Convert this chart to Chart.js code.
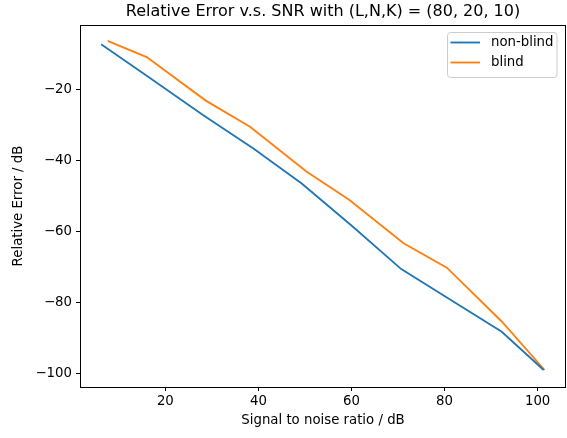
<!DOCTYPE html>
<html>
<head>
<meta charset="utf-8">
<script src="https://cdn.jsdelivr.net/npm/chart.js@4.4.1/dist/chart.umd.min.js"></script>
<style>
html,body{margin:0;padding:0;background:#fff;}
canvas{display:block;}
</style>
</head>
<body>
<canvas id="c" width="567" height="438"></canvas>
<script>
const chartTitle = "Relative Error v.s. SNR with (L,N,K) = (80, 20, 10)";
const xLabel = "Signal to noise ratio / dB";
const yLabel = "Relative Error / dB";
const seriesNames = ["non-blind", "blind"];
const nonBlindSnr = [6.2, 16.0, 28.0, 39.0, 49.3, 60.0, 70.7, 80.5, 92.3, 101.3];
const nonBlindErr = [-7.1, -16.0, -27.0, -36.6, -46.4, -58.3, -70.6, -78.6, -88.3, -99.1];
const blindSnr = [7.6, 16.0, 28.7, 38.2, 50.4, 59.5, 71.2, 80.5, 92.3, 101.5];
const blindErr = [-6.1, -10.7, -23.0, -30.4, -43.1, -51.0, -63.3, -70.2, -85.4, -99.1];
const xTicks = [20, 40, 60, 80, 100];
const yTicks = [-100, -80, -60, -40, -20];

const FONT = "'DejaVu Sans', sans-serif";
const SMALL = 13.3;
const colors = ["#1f77b4", "#ff7f0e"];

function pts(xs, ys){ return xs.map((x,i)=>({x:x, y:ys[i]})); }
function fmt(v){ return v < 0 ? "\u2212" + Math.abs(v) : String(v); }

const framePlugin = {
  id: 'frame',
  afterDatasetsDraw(chart){
    const {ctx, chartArea:a} = chart;
    ctx.save();
    ctx.strokeStyle = '#000';
    ctx.lineWidth = 1;
    ctx.strokeRect(Math.round(a.left)+0.5, Math.round(a.top)+0.5, Math.round(a.right-a.left)-1, Math.round(a.bottom-a.top));
    // legend
    const bx = 447.5, by = 32.5, bw = 109.5, bh = 45, r = 3;
    ctx.fillStyle = 'rgba(255,255,255,0.8)';
    ctx.strokeStyle = '#cccccc';
    ctx.lineWidth = 1;
    ctx.beginPath();
    ctx.moveTo(bx+r, by);
    ctx.lineTo(bx+bw-r, by); ctx.quadraticCurveTo(bx+bw, by, bx+bw, by+r);
    ctx.lineTo(bx+bw, by+bh-r); ctx.quadraticCurveTo(bx+bw, by+bh, bx+bw-r, by+bh);
    ctx.lineTo(bx+r, by+bh); ctx.quadraticCurveTo(bx, by+bh, bx, by+bh-r);
    ctx.lineTo(bx, by+r); ctx.quadraticCurveTo(bx, by, bx+r, by);
    ctx.closePath(); ctx.fill(); ctx.stroke();
    const rows = [42.5, 62.5];
    chart.data.datasets.forEach((ds, i) => {
      ctx.strokeStyle = ds.borderColor;
      ctx.lineWidth = 1.85;
      ctx.beginPath();
      ctx.moveTo(450.5, rows[i]); ctx.lineTo(480, rows[i]); ctx.stroke();
      ctx.fillStyle = '#000';
      ctx.font = SMALL + "px " + FONT;
      ctx.textBaseline = 'middle';
      ctx.textAlign = 'left';
      ctx.fillText(ds.label, 491, rows[i]);
    });
    // title
    ctx.font = "16px " + FONT;
    ctx.textAlign = 'center';
    ctx.textBaseline = 'middle';
    ctx.fillStyle = '#000';
    ctx.fillText(chartTitle, (a.left + a.right)/2, 11.5);
    ctx.restore();
  }
};

new Chart(document.getElementById('c'), {
  type: 'line',
  data: {
    datasets: [
      {label: seriesNames[0], data: pts(nonBlindSnr, nonBlindErr), borderColor: colors[0], backgroundColor: colors[0], borderWidth: 1.85, pointRadius: 0, tension: 0, fill: false},
      {label: seriesNames[1], data: pts(blindSnr, blindErr), borderColor: colors[1], backgroundColor: colors[1], borderWidth: 1.85, pointRadius: 0, tension: 0, fill: false}
    ]
  },
  options: {
    responsive: false,
    animation: false,
    devicePixelRatio: 1,
    layout: {padding: {left: 0, right: 1, top: 25, bottom: 0}},
    plugins: {legend: {display: false}, title: {display: false}, tooltip: {enabled: false}},
    scales: {
      x: {
        type: 'linear', min: 1.66, max: 106.1,
        afterBuildTicks(s){ s.ticks = xTicks.map(v=>({value:v})); },
        afterFit(s){ s.height = 51; },
        border: {display: false},
        grid: {display: true, drawOnChartArea: false, drawTicks: true, tickLength: 4, tickColor: '#000', tickWidth: 1},
        ticks: {color: '#000', font: {family: FONT, size: SMALL}, padding: 3, maxRotation: 0, autoSkip: false, callback: v => fmt(v)},
        title: {display: true, text: xLabel, color: '#000', font: {family: FONT, size: SMALL}, padding: {top: 2, bottom: 9}}
      },
      y: {
        type: 'linear', min: -103.9, max: -1.64,
        afterBuildTicks(s){ s.ticks = yTicks.map(v=>({value:v})); },
        afterFit(s){ s.width = 80; },
        border: {display: false},
        grid: {display: true, drawOnChartArea: false, drawTicks: true, tickLength: 4, tickColor: '#000', tickWidth: 1},
        ticks: {color: '#000', font: {family: FONT, size: SMALL}, padding: 4, autoSkip: false, callback: v => fmt(v)},
        title: {display: true, text: yLabel, color: '#000', font: {family: FONT, size: SMALL}, padding: {top: 11, bottom: 0}}
      }
    }
  },
  plugins: [framePlugin]
});
</script>
</body>
</html>
